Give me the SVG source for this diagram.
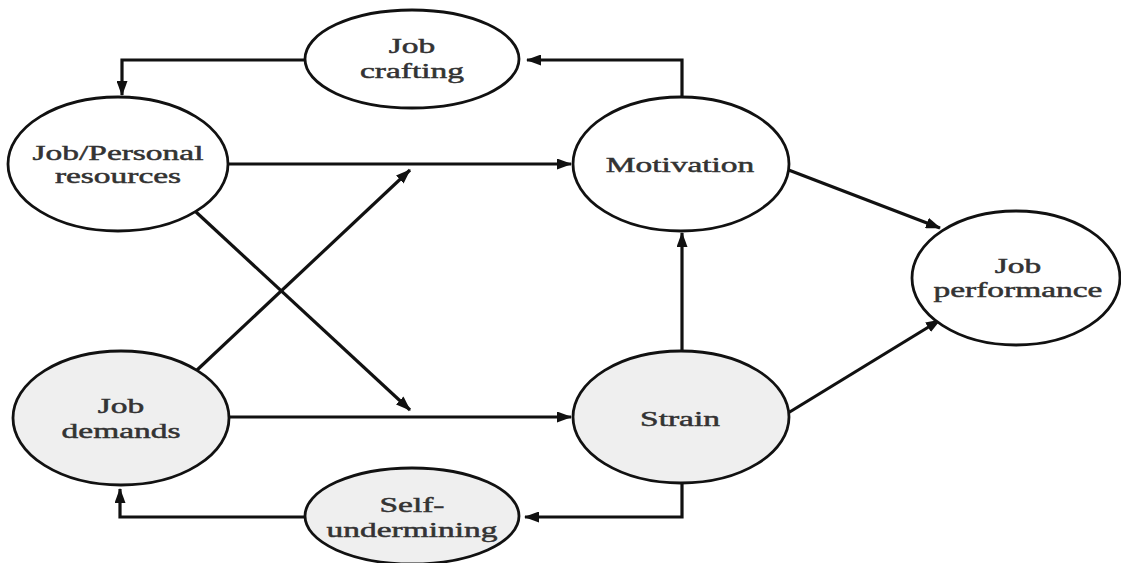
<svg xmlns="http://www.w3.org/2000/svg" width="1121" height="563" viewBox="0 0 1121 563">
<style>
.node{stroke:#111;stroke-width:2.8;}
.w{fill:#ffffff;}
.g{fill:#efefef;}
.lbl{font-family:"Liberation Serif","Times New Roman",serif;font-size:22px;fill:#333;stroke:#333;stroke-width:0.5;text-anchor:middle;}
.c{fill:none;stroke:#111;stroke-width:3.2;}
</style>
<defs>
<marker id="ah" markerUnits="userSpaceOnUse" markerWidth="15" markerHeight="11" refX="14" refY="5.5" orient="auto">
<path d="M0,0 L15,5.5 L0,11 z" fill="#111"/>
</marker>
</defs>
<rect width="1121" height="563" fill="#ffffff"/>
<g id="connectors">
<path class="c" d="M682,97 V60 H527" marker-end="url(#ah)"/>
<path class="c" d="M305,60 H122 V95" marker-end="url(#ah)"/>
<path class="c" d="M229,164 H571" marker-end="url(#ah)"/>
<path class="c" d="M196,212 L410,410" marker-end="url(#ah)"/>
<path class="c" d="M196,371 L410,170" marker-end="url(#ah)"/>
<path class="c" d="M230,417 H571" marker-end="url(#ah)"/>
<path class="c" d="M682,352 V233" marker-end="url(#ah)"/>
<path class="c" d="M786,169 L940,228" marker-end="url(#ah)"/>
<path class="c" d="M788,413 L940,320" marker-end="url(#ah)"/>
<path class="c" d="M682,484 V517 H525" marker-end="url(#ah)"/>
<path class="c" d="M305,517 H120 V489" marker-end="url(#ah)"/>
</g>
<g id="job-crafting">
<ellipse class="node w" cx="412" cy="59" rx="107" ry="49"/>
<text class="lbl" transform="translate(412,53) scale(1.52,1)">Job</text>
<text class="lbl" transform="translate(412,78) scale(1.52,1)">crafting</text>
</g>
<g id="job-personal-resources">
<ellipse class="node w" cx="118" cy="164" rx="110" ry="67"/>
<text class="lbl" transform="translate(118,160) scale(1.52,1)">Job/Personal</text>
<text class="lbl" transform="translate(118,183) scale(1.52,1)">resources</text>
</g>
<g id="motivation">
<ellipse class="node w" cx="681" cy="164" rx="108" ry="67"/>
<text class="lbl" transform="translate(680,172) scale(1.52,1)">Motivation</text>
</g>
<g id="job-performance">
<ellipse class="node w" cx="1016" cy="278" rx="104" ry="67"/>
<text class="lbl" transform="translate(1018,273) scale(1.52,1)">Job</text>
<text class="lbl" transform="translate(1018,297) scale(1.52,1)">performance</text>
</g>
<g id="job-demands">
<ellipse class="node g" cx="121" cy="418" rx="108" ry="67"/>
<text class="lbl" transform="translate(121,413) scale(1.52,1)">Job</text>
<text class="lbl" transform="translate(121,438) scale(1.52,1)">demands</text>
</g>
<g id="strain">
<ellipse class="node g" cx="681" cy="417" rx="108" ry="66"/>
<text class="lbl" transform="translate(680,426) scale(1.52,1)">Strain</text>
</g>
<g id="self-undermining">
<ellipse class="node g" cx="412" cy="516" rx="107" ry="48"/>
<text class="lbl" transform="translate(412,512) scale(1.52,1)">Self-</text>
<text class="lbl" transform="translate(412,537) scale(1.52,1)">undermining</text>
</g>
</svg>
